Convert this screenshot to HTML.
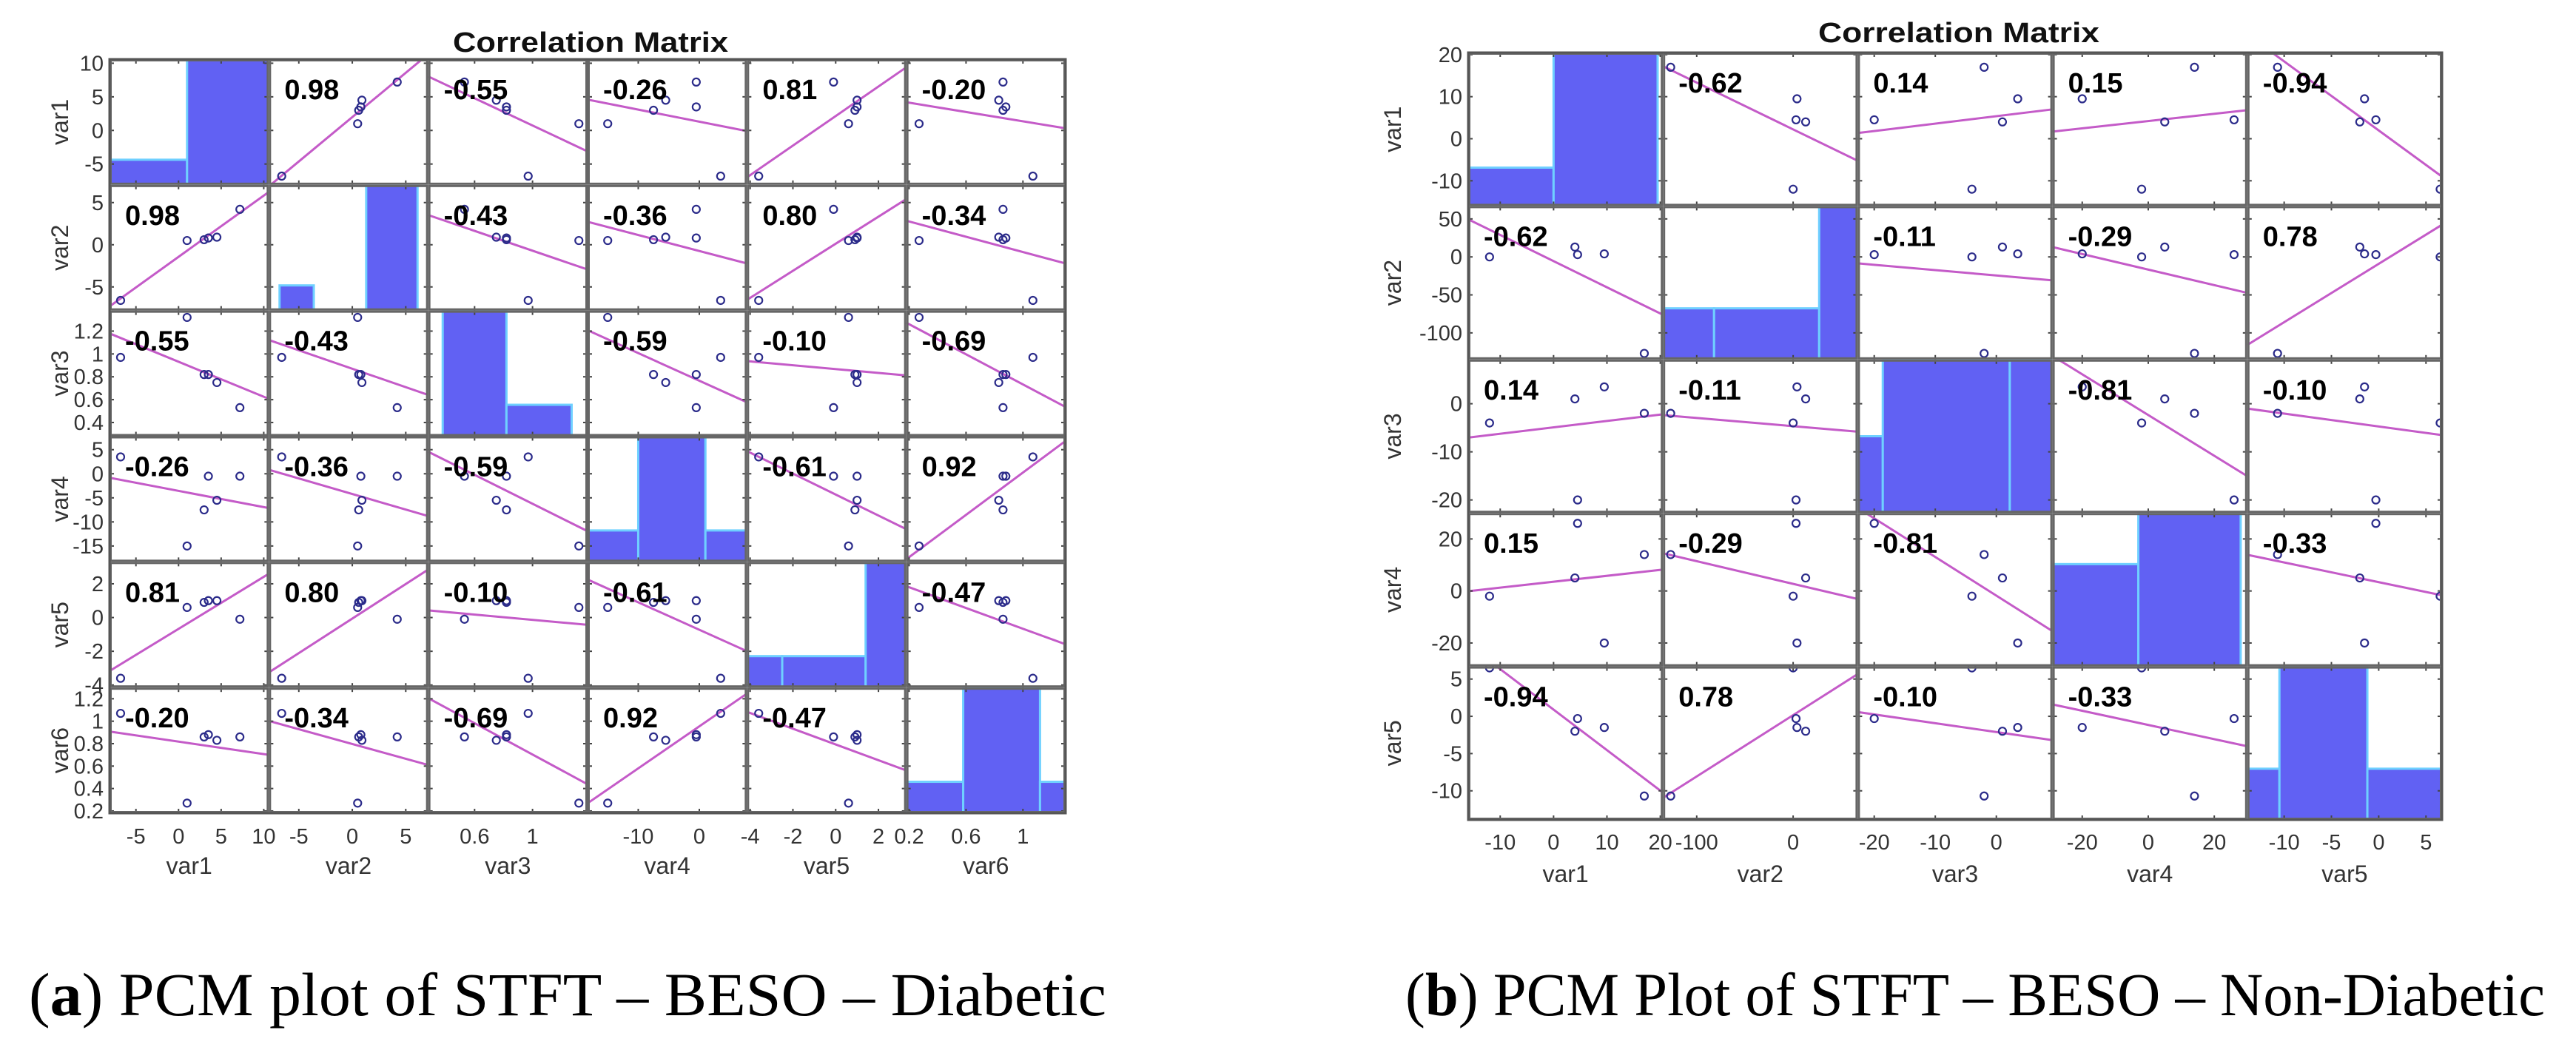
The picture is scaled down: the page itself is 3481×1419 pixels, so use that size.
<!DOCTYPE html>
<html><head><meta charset="utf-8"><style>
html,body{margin:0;padding:0;background:#fff;}
svg{display:block;}
</style></head><body>
<svg id="fig" xmlns="http://www.w3.org/2000/svg" width="3481" height="1419" viewBox="0 0 3481 1419">
<rect x="0" y="0" width="3481" height="1419" fill="#fff"/>
<text x="798" y="70" text-anchor="middle" font-family="Liberation Sans, sans-serif" font-weight="bold" font-size="38" textLength="372" lengthAdjust="spacingAndGlyphs" fill="#111">Correlation Matrix</text>
<text x="2647" y="57" text-anchor="middle" font-family="Liberation Sans, sans-serif" font-weight="bold" font-size="38" textLength="380" lengthAdjust="spacingAndGlyphs" fill="#111">Correlation Matrix</text>
<text x="39" y="1372" font-family="Liberation Serif, serif" font-size="83" textLength="1456" lengthAdjust="spacingAndGlyphs" fill="#000">(<tspan font-weight="bold">a</tspan>) PCM plot of STFT – BESO – Diabetic</text>
<text x="1899" y="1372" font-family="Liberation Serif, serif" font-size="83" textLength="1540" lengthAdjust="spacingAndGlyphs" fill="#000">(<tspan font-weight="bold">b</tspan>) PCM Plot of STFT – BESO – Non-Diabetic</text>
</svg>
<script>
// ===== Left panel (Diabetic) data =====
const leftVars = ['var1','var2','var3','var4','var5','var6'];
const leftVar1 = [-6.8, 1.0, 3.0, 3.5, 4.5, 7.2];
const leftVar2 = [-6.6, 0.5, 0.6, 0.8, 0.9, 4.2];
const leftVar3 = [0.97, 1.32, 0.82, 0.82, 0.75, 0.53];
const leftVar4 = [3.5, -15, -7.5, -0.5, -5.5, -0.5];
const leftVar5 = [-3.6, 0.6, 0.9, 1.0, 1.0, -0.1];
const leftVar6 = [1.07, 0.27, 0.86, 0.88, 0.83, 0.86];
const leftRanges = [[-8.1, 10.6], [-7.8, 7.1], [0.28, 1.38], [-18.3, 7.8], [-4.15, 3.3], [0.18, 1.3]];
const leftYTicks = [[-5,0,5,10], [-5,0,5], [0.4,0.6,0.8,1,1.2], [-15,-10,-5,0,5], [-4,-2,0,2], [0.2,0.4,0.6,0.8,1,1.2]];
const leftXTicks = [[-5,0,5,10], [-5,0,5], [0.6,1], [-10,0], [-4,-2,0,2], [0.2,0.6,1]];
const leftHistEdges = [[-8.1,1,10.6], [-6.8,-3.6,1.3,6.1], [0.38,0.82,1.27], [-18.3,-10,1,7.8], [-4.15,-2.5,1.4,3.3], [0.18,0.58,1.12,1.3]];
const leftHistCounts = [[1,5], [1,0,5], [4,1], [1,4,1], [1,1,4], [1,4,1]];
const leftCorr = [
 ['', '0.98', '-0.55', '-0.26', '0.81', '-0.20'],
 ['0.98', '', '-0.43', '-0.36', '0.80', '-0.34'],
 ['-0.55', '-0.43', '', '-0.59', '-0.10', '-0.69'],
 ['-0.26', '-0.36', '-0.59', '', '-0.61', '0.92'],
 ['0.81', '0.80', '-0.10', '-0.61', '', '-0.47'],
 ['-0.20', '-0.34', '-0.69', '0.92', '-0.47', '']
];
// ===== Right panel (Non-Diabetic) data =====
const rightVars = ['var1','var2','var3','var4','var5'];
const rightVar1 = [-12, 4, 4.5, 9.5, 17];
const rightVar2 = [0, 13, 3, 4, -127];
const rightVar3 = [-4, 1, -20, 3.5, -2];
const rightVar4 = [-2, 5, 26, -20, 14];
const rightVar5 = [6.5, -2, -0.3, -1.5, -10.7];
const rightRanges = [[-16, 20.5], [-135, 67], [-22.7, 9.2], [-29, 30], [-13.9, 6.7]];
const rightYTicks = [[-10,0,10,20], [-100,-50,0,50], [-20,-10,0], [-20,0,20], [-10,-5,0,5]];
const rightXTicks = [[-10,0,10,20], [-100,0], [-20,-10,0], [-20,0,20], [-10,-5,0,5]];
const rightHistEdges = [[-16,0,19.5], [-135,-82,27,67], [-22.7,-18.6,2.2,9.2], [-29,-3,28], [-13.9,-10.5,-1.2,7.5]];
const rightHistCounts = [[1,4], [1,1,3], [1,2,2], [2,3], [1,3,1]];
const rightCorr = [
 ['', '-0.62', '0.14', '0.15', '-0.94'],
 ['-0.62', '', '-0.11', '-0.29', '0.78'],
 ['0.14', '-0.11', '', '-0.81', '-0.10'],
 ['0.15', '-0.29', '-0.81', '', '-0.33'],
 ['-0.94', '0.78', '-0.10', '-0.33', '']
];

const NS = 'http://www.w3.org/2000/svg';
const svg = document.getElementById('fig');
function mk(tag, attrs, parent) {
  const e = document.createElementNS(NS, tag);
  for (const k in attrs) e.setAttribute(k, attrs[k]);
  (parent || svg).appendChild(e);
  return e;
}
function fmt(v) { return String(v); }

function drawPanel(key, x0, y0, w, h, vars, data, ranges, yTicks, xTicks, hEdges, hCounts, corr, labX, tickBase, varBase) {
  const n = vars.length;
  const cw = w / n, ch = h / n;
  const g = mk('g', {});
  
  
  const defs = mk('defs', {}, g);
  for (let i = 0; i < n; i++) {
    for (let j = 0; j < n; j++) {
      const cx = x0 + j * cw, cy = y0 + i * ch;
      const xr = ranges[j], yr = ranges[i];
      const sx = v => cx + (v - xr[0]) / (xr[1] - xr[0]) * cw;
      const sy = v => cy + ch - (v - yr[0]) / (yr[1] - yr[0]) * ch;
      const cell = mk('g', {}, g);
      
      
      const cid = key + 'clip' + i + '_' + j;
      const cp = mk('clipPath', {id: cid}, defs);
      mk('rect', {x: cx, y: cy, width: cw, height: ch}, cp);
      mk('rect', {x: cx, y: cy, width: cw, height: ch, fill: '#fff'}, cell);
      if (i === j) {
        const edges = hEdges[i], counts = hCounts[i];
        const mx = Math.max.apply(null, counts);
        for (let k = 0; k < counts.length; k++) {
          if (counts[k] <= 0) continue;
          const bx1 = sx(edges[k]), bx2 = sx(edges[k + 1]);
          const bh = counts[k] / mx * ch;
          const b = mk('rect', {x: bx1, y: cy + ch - bh, width: bx2 - bx1, height: bh, fill: '#6161f3', stroke: '#6fd0ff', 'stroke-width': 3, 'clip-path': 'url(#' + cid + ')'}, cell);
          
          
        }
      } else {
        const xs = data[j], ys = data[i];
        const m = xs.length;
        let mx = 0, my = 0;
        for (let k = 0; k < m; k++) { mx += xs[k]; my += ys[k]; }
        mx /= m; my /= m;
        let sxy = 0, sxx = 0;
        for (let k = 0; k < m; k++) { sxy += (xs[k] - mx) * (ys[k] - my); sxx += (xs[k] - mx) * (xs[k] - mx); }
        const slope = sxx ? sxy / sxx : 0;
        const icpt = my - slope * mx;
        const ln = mk('line', {x1: sx(xr[0]), y1: sy(icpt + slope * xr[0]), x2: sx(xr[1]), y2: sy(icpt + slope * xr[1]), stroke: '#c45bc8', 'stroke-width': 3, 'clip-path': 'url(#' + cid + ')'}, cell);
        
        
        for (let k = 0; k < m; k++) {
          const c = mk('circle', {cx: sx(xs[k]), cy: sy(ys[k]), r: 5, fill: 'none', stroke: '#2b2b8a', 'stroke-width': 2.2, 'clip-path': 'url(#' + cid + ')'}, cell);
          
          
        }
        const t = mk('text', {x: cx + 21, y: cy + 54, 'font-family': 'Liberation Sans, sans-serif', 'font-weight': 'bold', 'font-size': 38, fill: '#000'}, cell);
        t.textContent = corr[i][j];
        
        
      }
      for (const tv of xTicks[j]) {
        mk('line', {x1: sx(tv), y1: cy + ch, x2: sx(tv), y2: cy + ch - 6, stroke: '#444', 'stroke-width': 2}, cell);
        mk('line', {x1: sx(tv), y1: cy, x2: sx(tv), y2: cy + 6, stroke: '#444', 'stroke-width': 2}, cell);
      }
      for (const tv of yTicks[i]) {
        mk('line', {x1: cx, y1: sy(tv), x2: cx + 6, y2: sy(tv), stroke: '#444', 'stroke-width': 2}, cell);
        mk('line', {x1: cx + cw, y1: sy(tv), x2: cx + cw - 6, y2: sy(tv), stroke: '#444', 'stroke-width': 2}, cell);
      }
      mk('rect', {x: cx + 1.5, y: cy + 1.5, width: cw - 3, height: ch - 3, fill: 'none', stroke: '#666', 'stroke-width': 3}, cell);
      if (j === 0) {
        for (const tv of yTicks[i]) {
          const t = mk('text', {x: cx - 8, y: sy(tv) + 10, 'text-anchor': 'end', 'font-family': 'Liberation Sans, sans-serif', 'font-size': 29, fill: '#333'}, g);
          t.textContent = fmt(tv);
          
          
        }
        const ly = cy + ch / 2;
        const vl = mk('text', {x: labX, y: ly, transform: 'rotate(-90 ' + labX + ' ' + ly + ')', 'text-anchor': 'middle', 'font-family': 'Liberation Sans, sans-serif', 'font-size': 32, fill: '#333'}, g);
        vl.textContent = vars[i];
        
        
      }
      if (i === n - 1) {
        for (const tv of xTicks[j]) {
          const t = mk('text', {x: sx(tv), y: tickBase, 'text-anchor': 'middle', 'font-family': 'Liberation Sans, sans-serif', 'font-size': 29, fill: '#333'}, g);
          t.textContent = fmt(tv);
          
          
        }
        const xl = mk('text', {x: cx + cw / 2, y: varBase, 'text-anchor': 'middle', 'font-family': 'Liberation Sans, sans-serif', 'font-size': 32, fill: '#333'}, g);
        xl.textContent = vars[j];
        
        
      }
    }
  }
  mk('rect', {x: x0, y: y0, width: w, height: h, fill: 'none', stroke: '#555', 'stroke-width': 3}, g);
}

drawPanel('left', 148, 80, 1292, 1019, leftVars,
  [leftVar1, leftVar2, leftVar3, leftVar4, leftVar5, leftVar6],
  leftRanges, leftYTicks, leftXTicks, leftHistEdges, leftHistCounts, leftCorr, 92, 1140, 1181);
drawPanel('right', 1984, 71, 1316, 1037, rightVars,
  [rightVar1, rightVar2, rightVar3, rightVar4, rightVar5],
  rightRanges, rightYTicks, rightXTicks, rightHistEdges, rightHistCounts, rightCorr, 1893, 1148, 1192);
</script>
</body></html>
